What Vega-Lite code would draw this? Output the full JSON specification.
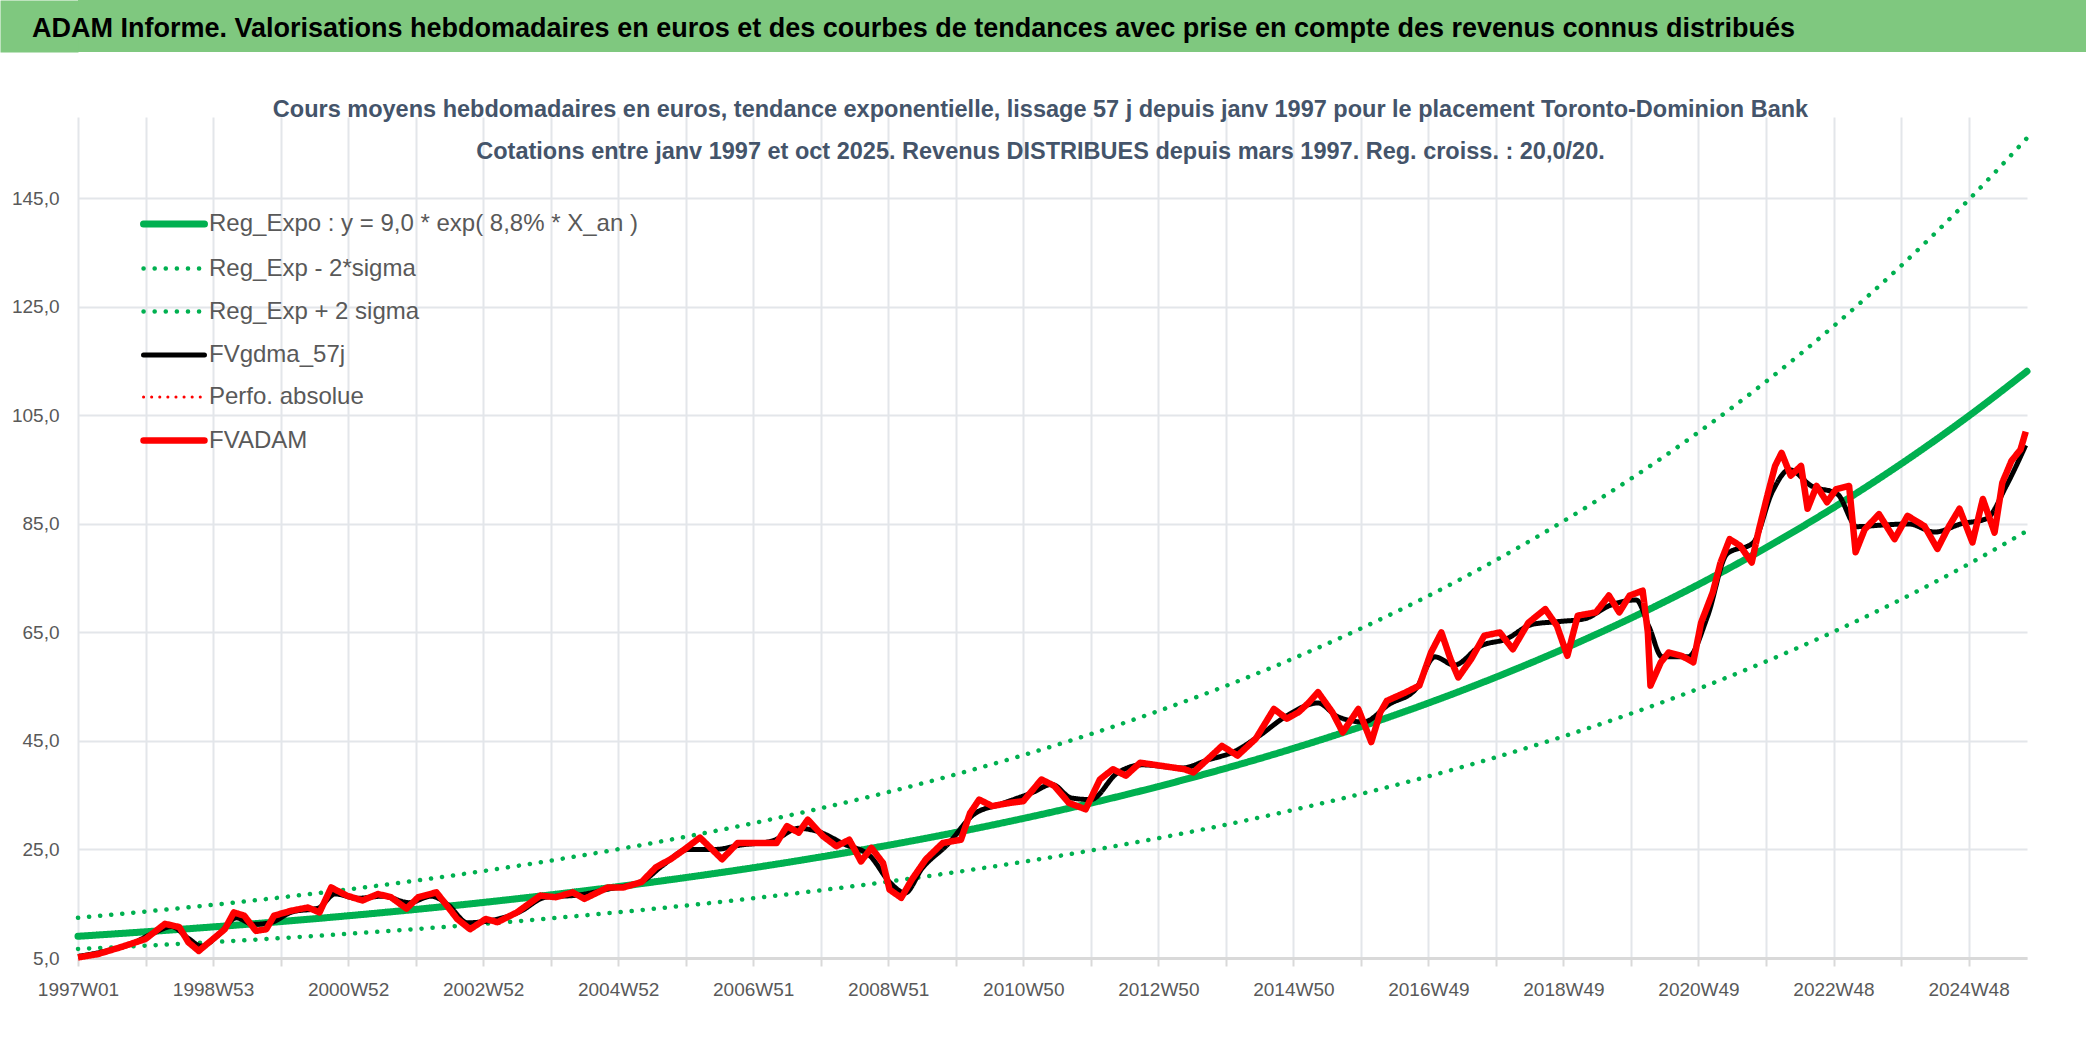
{
  "$schema": "https://vega.github.io/schema/vega-lite/v6.json",
  "padding": 0,
  "background": "white",
  "config": {
    "font": "Liberation Sans",
    "view": {"stroke": null}
  },
  "datasets": {
    "trend": [
      {"s": "Reg_Expo : y = 9,0 * exp( 8,8% *  X_an )", "t": 0, "v": 9.00},
      {"s": "Reg_Expo : y = 9,0 * exp( 8,8% *  X_an )", "t": 52, "v": 9.83},
      {"s": "Reg_Expo : y = 9,0 * exp( 8,8% *  X_an )", "t": 104, "v": 10.73},
      {"s": "Reg_Expo : y = 9,0 * exp( 8,8% *  X_an )", "t": 156, "v": 11.71},
      {"s": "Reg_Expo : y = 9,0 * exp( 8,8% *  X_an )", "t": 208, "v": 12.78},
      {"s": "Reg_Expo : y = 9,0 * exp( 8,8% *  X_an )", "t": 260, "v": 13.95},
      {"s": "Reg_Expo : y = 9,0 * exp( 8,8% *  X_an )", "t": 312, "v": 15.23},
      {"s": "Reg_Expo : y = 9,0 * exp( 8,8% *  X_an )", "t": 364, "v": 16.63},
      {"s": "Reg_Expo : y = 9,0 * exp( 8,8% *  X_an )", "t": 416, "v": 18.15},
      {"s": "Reg_Expo : y = 9,0 * exp( 8,8% *  X_an )", "t": 468, "v": 19.82},
      {"s": "Reg_Expo : y = 9,0 * exp( 8,8% *  X_an )", "t": 520, "v": 21.63},
      {"s": "Reg_Expo : y = 9,0 * exp( 8,8% *  X_an )", "t": 572, "v": 23.62},
      {"s": "Reg_Expo : y = 9,0 * exp( 8,8% *  X_an )", "t": 624, "v": 25.78},
      {"s": "Reg_Expo : y = 9,0 * exp( 8,8% *  X_an )", "t": 676, "v": 28.14},
      {"s": "Reg_Expo : y = 9,0 * exp( 8,8% *  X_an )", "t": 728, "v": 30.72},
      {"s": "Reg_Expo : y = 9,0 * exp( 8,8% *  X_an )", "t": 780, "v": 33.54},
      {"s": "Reg_Expo : y = 9,0 * exp( 8,8% *  X_an )", "t": 832, "v": 36.61},
      {"s": "Reg_Expo : y = 9,0 * exp( 8,8% *  X_an )", "t": 884, "v": 39.97},
      {"s": "Reg_Expo : y = 9,0 * exp( 8,8% *  X_an )", "t": 936, "v": 43.63},
      {"s": "Reg_Expo : y = 9,0 * exp( 8,8% *  X_an )", "t": 988, "v": 47.63},
      {"s": "Reg_Expo : y = 9,0 * exp( 8,8% *  X_an )", "t": 1040, "v": 51.99},
      {"s": "Reg_Expo : y = 9,0 * exp( 8,8% *  X_an )", "t": 1092, "v": 56.76},
      {"s": "Reg_Expo : y = 9,0 * exp( 8,8% *  X_an )", "t": 1144, "v": 61.96},
      {"s": "Reg_Expo : y = 9,0 * exp( 8,8% *  X_an )", "t": 1196, "v": 67.64},
      {"s": "Reg_Expo : y = 9,0 * exp( 8,8% *  X_an )", "t": 1248, "v": 73.84},
      {"s": "Reg_Expo : y = 9,0 * exp( 8,8% *  X_an )", "t": 1300, "v": 80.61},
      {"s": "Reg_Expo : y = 9,0 * exp( 8,8% *  X_an )", "t": 1352, "v": 88.00},
      {"s": "Reg_Expo : y = 9,0 * exp( 8,8% *  X_an )", "t": 1404, "v": 96.06},
      {"s": "Reg_Expo : y = 9,0 * exp( 8,8% *  X_an )", "t": 1456, "v": 104.87},
      {"s": "Reg_Expo : y = 9,0 * exp( 8,8% *  X_an )", "t": 1501, "v": 113.13},
      {"s": "Reg_Exp - 2*sigma", "t": 0, "v": 6.66},
      {"s": "Reg_Exp - 2*sigma", "t": 52, "v": 7.27},
      {"s": "Reg_Exp - 2*sigma", "t": 104, "v": 7.94},
      {"s": "Reg_Exp - 2*sigma", "t": 156, "v": 8.66},
      {"s": "Reg_Exp - 2*sigma", "t": 208, "v": 9.46},
      {"s": "Reg_Exp - 2*sigma", "t": 260, "v": 10.33},
      {"s": "Reg_Exp - 2*sigma", "t": 312, "v": 11.27},
      {"s": "Reg_Exp - 2*sigma", "t": 364, "v": 12.30},
      {"s": "Reg_Exp - 2*sigma", "t": 416, "v": 13.43},
      {"s": "Reg_Exp - 2*sigma", "t": 468, "v": 14.66},
      {"s": "Reg_Exp - 2*sigma", "t": 520, "v": 16.01},
      {"s": "Reg_Exp - 2*sigma", "t": 572, "v": 17.48},
      {"s": "Reg_Exp - 2*sigma", "t": 624, "v": 19.08},
      {"s": "Reg_Exp - 2*sigma", "t": 676, "v": 20.83},
      {"s": "Reg_Exp - 2*sigma", "t": 728, "v": 22.73},
      {"s": "Reg_Exp - 2*sigma", "t": 780, "v": 24.82},
      {"s": "Reg_Exp - 2*sigma", "t": 832, "v": 27.09},
      {"s": "Reg_Exp - 2*sigma", "t": 884, "v": 29.57},
      {"s": "Reg_Exp - 2*sigma", "t": 936, "v": 32.29},
      {"s": "Reg_Exp - 2*sigma", "t": 988, "v": 35.24},
      {"s": "Reg_Exp - 2*sigma", "t": 1040, "v": 38.48},
      {"s": "Reg_Exp - 2*sigma", "t": 1092, "v": 42.00},
      {"s": "Reg_Exp - 2*sigma", "t": 1144, "v": 45.85},
      {"s": "Reg_Exp - 2*sigma", "t": 1196, "v": 50.05},
      {"s": "Reg_Exp - 2*sigma", "t": 1248, "v": 54.64},
      {"s": "Reg_Exp - 2*sigma", "t": 1300, "v": 59.65},
      {"s": "Reg_Exp - 2*sigma", "t": 1352, "v": 65.12},
      {"s": "Reg_Exp - 2*sigma", "t": 1404, "v": 71.09},
      {"s": "Reg_Exp - 2*sigma", "t": 1456, "v": 77.60},
      {"s": "Reg_Exp - 2*sigma", "t": 1501, "v": 83.72},
      {"s": "Reg_Exp + 2 sigma", "t": 0, "v": 12.42},
      {"s": "Reg_Exp + 2 sigma", "t": 52, "v": 13.56},
      {"s": "Reg_Exp + 2 sigma", "t": 104, "v": 14.80},
      {"s": "Reg_Exp + 2 sigma", "t": 156, "v": 16.16},
      {"s": "Reg_Exp + 2 sigma", "t": 208, "v": 17.64},
      {"s": "Reg_Exp + 2 sigma", "t": 260, "v": 19.26},
      {"s": "Reg_Exp + 2 sigma", "t": 312, "v": 21.02},
      {"s": "Reg_Exp + 2 sigma", "t": 364, "v": 22.95},
      {"s": "Reg_Exp + 2 sigma", "t": 416, "v": 25.05},
      {"s": "Reg_Exp + 2 sigma", "t": 468, "v": 27.35},
      {"s": "Reg_Exp + 2 sigma", "t": 520, "v": 29.85},
      {"s": "Reg_Exp + 2 sigma", "t": 572, "v": 32.59},
      {"s": "Reg_Exp + 2 sigma", "t": 624, "v": 35.58},
      {"s": "Reg_Exp + 2 sigma", "t": 676, "v": 38.84},
      {"s": "Reg_Exp + 2 sigma", "t": 728, "v": 42.39},
      {"s": "Reg_Exp + 2 sigma", "t": 780, "v": 46.28},
      {"s": "Reg_Exp + 2 sigma", "t": 832, "v": 50.52},
      {"s": "Reg_Exp + 2 sigma", "t": 884, "v": 55.15},
      {"s": "Reg_Exp + 2 sigma", "t": 936, "v": 60.21},
      {"s": "Reg_Exp + 2 sigma", "t": 988, "v": 65.73},
      {"s": "Reg_Exp + 2 sigma", "t": 1040, "v": 71.75},
      {"s": "Reg_Exp + 2 sigma", "t": 1092, "v": 78.33},
      {"s": "Reg_Exp + 2 sigma", "t": 1144, "v": 85.51},
      {"s": "Reg_Exp + 2 sigma", "t": 1196, "v": 93.34},
      {"s": "Reg_Exp + 2 sigma", "t": 1248, "v": 101.90},
      {"s": "Reg_Exp + 2 sigma", "t": 1300, "v": 111.24},
      {"s": "Reg_Exp + 2 sigma", "t": 1352, "v": 121.44},
      {"s": "Reg_Exp + 2 sigma", "t": 1404, "v": 132.57},
      {"s": "Reg_Exp + 2 sigma", "t": 1456, "v": 144.72},
      {"s": "Reg_Exp + 2 sigma", "t": 1501, "v": 156.12}
    ],
    "smooth": [
      {"s": "FVgdma_57j", "t": 0, "v": 5.3}, {"s": "FVgdma_57j", "t": 20, "v": 6.2}, {"s": "FVgdma_57j", "t": 40, "v": 7.5},
      {"s": "FVgdma_57j", "t": 60, "v": 9.8}, {"s": "FVgdma_57j", "t": 72, "v": 10.8}, {"s": "FVgdma_57j", "t": 85, "v": 8.6},
      {"s": "FVgdma_57j", "t": 95, "v": 7.2}, {"s": "FVgdma_57j", "t": 108, "v": 9.2}, {"s": "FVgdma_57j", "t": 122, "v": 12.4},
      {"s": "FVgdma_57j", "t": 135, "v": 11.2}, {"s": "FVgdma_57j", "t": 148, "v": 11.5}, {"s": "FVgdma_57j", "t": 165, "v": 13.5},
      {"s": "FVgdma_57j", "t": 185, "v": 14.2}, {"s": "FVgdma_57j", "t": 198, "v": 16.8}, {"s": "FVgdma_57j", "t": 215, "v": 16.0},
      {"s": "FVgdma_57j", "t": 235, "v": 16.4}, {"s": "FVgdma_57j", "t": 255, "v": 15.2}, {"s": "FVgdma_57j", "t": 272, "v": 16.4},
      {"s": "FVgdma_57j", "t": 285, "v": 14.8}, {"s": "FVgdma_57j", "t": 300, "v": 11.5}, {"s": "FVgdma_57j", "t": 320, "v": 12.0},
      {"s": "FVgdma_57j", "t": 340, "v": 13.5}, {"s": "FVgdma_57j", "t": 360, "v": 16.2}, {"s": "FVgdma_57j", "t": 385, "v": 16.6},
      {"s": "FVgdma_57j", "t": 410, "v": 17.8}, {"s": "FVgdma_57j", "t": 435, "v": 19.2}, {"s": "FVgdma_57j", "t": 450, "v": 22.0},
      {"s": "FVgdma_57j", "t": 470, "v": 25.0}, {"s": "FVgdma_57j", "t": 490, "v": 25.0}, {"s": "FVgdma_57j", "t": 510, "v": 25.8},
      {"s": "FVgdma_57j", "t": 535, "v": 26.6}, {"s": "FVgdma_57j", "t": 555, "v": 28.9}, {"s": "FVgdma_57j", "t": 570, "v": 28.3},
      {"s": "FVgdma_57j", "t": 590, "v": 26.0}, {"s": "FVgdma_57j", "t": 610, "v": 23.8}, {"s": "FVgdma_57j", "t": 625, "v": 19.0},
      {"s": "FVgdma_57j", "t": 637, "v": 17.0}, {"s": "FVgdma_57j", "t": 650, "v": 21.5}, {"s": "FVgdma_57j", "t": 670, "v": 26.0},
      {"s": "FVgdma_57j", "t": 690, "v": 31.5}, {"s": "FVgdma_57j", "t": 710, "v": 33.3}, {"s": "FVgdma_57j", "t": 735, "v": 35.5},
      {"s": "FVgdma_57j", "t": 750, "v": 37.0}, {"s": "FVgdma_57j", "t": 765, "v": 34.5}, {"s": "FVgdma_57j", "t": 780, "v": 34.2},
      {"s": "FVgdma_57j", "t": 800, "v": 39.0}, {"s": "FVgdma_57j", "t": 820, "v": 40.6}, {"s": "FVgdma_57j", "t": 850, "v": 40.0},
      {"s": "FVgdma_57j", "t": 870, "v": 41.5}, {"s": "FVgdma_57j", "t": 890, "v": 43.0}, {"s": "FVgdma_57j", "t": 910, "v": 46.0},
      {"s": "FVgdma_57j", "t": 930, "v": 49.5}, {"s": "FVgdma_57j", "t": 955, "v": 52.0}, {"s": "FVgdma_57j", "t": 970, "v": 49.5},
      {"s": "FVgdma_57j", "t": 990, "v": 48.5}, {"s": "FVgdma_57j", "t": 1010, "v": 51.8}, {"s": "FVgdma_57j", "t": 1030, "v": 54.5},
      {"s": "FVgdma_57j", "t": 1045, "v": 60.5}, {"s": "FVgdma_57j", "t": 1060, "v": 59.0}, {"s": "FVgdma_57j", "t": 1080, "v": 62.5},
      {"s": "FVgdma_57j", "t": 1100, "v": 63.8}, {"s": "FVgdma_57j", "t": 1120, "v": 66.5}, {"s": "FVgdma_57j", "t": 1140, "v": 67.0},
      {"s": "FVgdma_57j", "t": 1160, "v": 67.5}, {"s": "FVgdma_57j", "t": 1180, "v": 70.0}, {"s": "FVgdma_57j", "t": 1200, "v": 71.0},
      {"s": "FVgdma_57j", "t": 1210, "v": 66.0}, {"s": "FVgdma_57j", "t": 1220, "v": 60.5}, {"s": "FVgdma_57j", "t": 1240, "v": 60.5},
      {"s": "FVgdma_57j", "t": 1255, "v": 68.0}, {"s": "FVgdma_57j", "t": 1270, "v": 79.5}, {"s": "FVgdma_57j", "t": 1290, "v": 81.5},
      {"s": "FVgdma_57j", "t": 1305, "v": 91.0}, {"s": "FVgdma_57j", "t": 1318, "v": 95.0}, {"s": "FVgdma_57j", "t": 1335, "v": 92.0},
      {"s": "FVgdma_57j", "t": 1355, "v": 90.5}, {"s": "FVgdma_57j", "t": 1370, "v": 84.5}, {"s": "FVgdma_57j", "t": 1390, "v": 84.8},
      {"s": "FVgdma_57j", "t": 1410, "v": 85.0}, {"s": "FVgdma_57j", "t": 1430, "v": 83.5}, {"s": "FVgdma_57j", "t": 1450, "v": 85.0},
      {"s": "FVgdma_57j", "t": 1470, "v": 86.0}, {"s": "FVgdma_57j", "t": 1485, "v": 92.0}, {"s": "FVgdma_57j", "t": 1500, "v": 99.5}
    ],
    "raw": [
      {"s": "FVADAM", "t": 0, "v": 5.1}, {"s": "FVADAM", "t": 15, "v": 5.7}, {"s": "FVADAM", "t": 33, "v": 7.0},
      {"s": "FVADAM", "t": 52, "v": 8.5}, {"s": "FVADAM", "t": 67, "v": 11.3}, {"s": "FVADAM", "t": 78, "v": 10.7},
      {"s": "FVADAM", "t": 85, "v": 7.9}, {"s": "FVADAM", "t": 93, "v": 6.3}, {"s": "FVADAM", "t": 104, "v": 8.5},
      {"s": "FVADAM", "t": 113, "v": 10.3}, {"s": "FVADAM", "t": 120, "v": 13.4}, {"s": "FVADAM", "t": 128, "v": 12.8},
      {"s": "FVADAM", "t": 137, "v": 10.0}, {"s": "FVADAM", "t": 145, "v": 10.3}, {"s": "FVADAM", "t": 151, "v": 12.8},
      {"s": "FVADAM", "t": 164, "v": 13.7}, {"s": "FVADAM", "t": 177, "v": 14.3}, {"s": "FVADAM", "t": 186, "v": 13.4},
      {"s": "FVADAM", "t": 195, "v": 18.0}, {"s": "FVADAM", "t": 207, "v": 16.5}, {"s": "FVADAM", "t": 219, "v": 15.6},
      {"s": "FVADAM", "t": 231, "v": 16.8}, {"s": "FVADAM", "t": 241, "v": 16.2}, {"s": "FVADAM", "t": 253, "v": 14.1},
      {"s": "FVADAM", "t": 262, "v": 16.2}, {"s": "FVADAM", "t": 276, "v": 17.1}, {"s": "FVADAM", "t": 283, "v": 15.0},
      {"s": "FVADAM", "t": 292, "v": 12.2}, {"s": "FVADAM", "t": 302, "v": 10.3}, {"s": "FVADAM", "t": 314, "v": 12.2},
      {"s": "FVADAM", "t": 323, "v": 11.6}, {"s": "FVADAM", "t": 338, "v": 13.4}, {"s": "FVADAM", "t": 356, "v": 16.5},
      {"s": "FVADAM", "t": 368, "v": 16.2}, {"s": "FVADAM", "t": 381, "v": 17.1}, {"s": "FVADAM", "t": 390, "v": 15.9},
      {"s": "FVADAM", "t": 408, "v": 18.0}, {"s": "FVADAM", "t": 420, "v": 18.0}, {"s": "FVADAM", "t": 434, "v": 19.0},
      {"s": "FVADAM", "t": 445, "v": 21.7}, {"s": "FVADAM", "t": 457, "v": 23.3}, {"s": "FVADAM", "t": 467, "v": 25.0},
      {"s": "FVADAM", "t": 479, "v": 27.2}, {"s": "FVADAM", "t": 496, "v": 23.2}, {"s": "FVADAM", "t": 508, "v": 26.2},
      {"s": "FVADAM", "t": 525, "v": 26.2}, {"s": "FVADAM", "t": 538, "v": 26.2}, {"s": "FVADAM", "t": 546, "v": 29.3},
      {"s": "FVADAM", "t": 555, "v": 28.1}, {"s": "FVADAM", "t": 562, "v": 30.5}, {"s": "FVADAM", "t": 574, "v": 27.4},
      {"s": "FVADAM", "t": 584, "v": 25.6}, {"s": "FVADAM", "t": 594, "v": 26.8}, {"s": "FVADAM", "t": 603, "v": 22.8},
      {"s": "FVADAM", "t": 611, "v": 25.3}, {"s": "FVADAM", "t": 620, "v": 22.5}, {"s": "FVADAM", "t": 625, "v": 17.6},
      {"s": "FVADAM", "t": 634, "v": 16.1}, {"s": "FVADAM", "t": 642, "v": 19.4}, {"s": "FVADAM", "t": 653, "v": 23.2},
      {"s": "FVADAM", "t": 666, "v": 26.2}, {"s": "FVADAM", "t": 680, "v": 26.8}, {"s": "FVADAM", "t": 687, "v": 31.7},
      {"s": "FVADAM", "t": 694, "v": 34.2}, {"s": "FVADAM", "t": 704, "v": 33.0}, {"s": "FVADAM", "t": 718, "v": 33.6},
      {"s": "FVADAM", "t": 728, "v": 33.9}, {"s": "FVADAM", "t": 742, "v": 37.9}, {"s": "FVADAM", "t": 752, "v": 36.7},
      {"s": "FVADAM", "t": 763, "v": 33.6}, {"s": "FVADAM", "t": 776, "v": 32.4}, {"s": "FVADAM", "t": 787, "v": 37.9},
      {"s": "FVADAM", "t": 797, "v": 39.8}, {"s": "FVADAM", "t": 807, "v": 38.6}, {"s": "FVADAM", "t": 818, "v": 41.0},
      {"s": "FVADAM", "t": 835, "v": 40.4}, {"s": "FVADAM", "t": 852, "v": 39.8}, {"s": "FVADAM", "t": 859, "v": 39.2},
      {"s": "FVADAM", "t": 873, "v": 42.3}, {"s": "FVADAM", "t": 881, "v": 44.1}, {"s": "FVADAM", "t": 893, "v": 42.3},
      {"s": "FVADAM", "t": 907, "v": 45.4}, {"s": "FVADAM", "t": 921, "v": 50.9}, {"s": "FVADAM", "t": 931, "v": 49.1},
      {"s": "FVADAM", "t": 940, "v": 50.3}, {"s": "FVADAM", "t": 948, "v": 52.1}, {"s": "FVADAM", "t": 955, "v": 54.0},
      {"s": "FVADAM", "t": 966, "v": 50.3}, {"s": "FVADAM", "t": 974, "v": 46.6}, {"s": "FVADAM", "t": 986, "v": 50.9},
      {"s": "FVADAM", "t": 996, "v": 44.8}, {"s": "FVADAM", "t": 1003, "v": 50.3}, {"s": "FVADAM", "t": 1008, "v": 52.4},
      {"s": "FVADAM", "t": 1022, "v": 53.9}, {"s": "FVADAM", "t": 1033, "v": 55.2}, {"s": "FVADAM", "t": 1042, "v": 61.3},
      {"s": "FVADAM", "t": 1050, "v": 65.0}, {"s": "FVADAM", "t": 1057, "v": 60.1}, {"s": "FVADAM", "t": 1063, "v": 56.7},
      {"s": "FVADAM", "t": 1073, "v": 60.1}, {"s": "FVADAM", "t": 1083, "v": 64.4}, {"s": "FVADAM", "t": 1095, "v": 65.0},
      {"s": "FVADAM", "t": 1105, "v": 61.9}, {"s": "FVADAM", "t": 1117, "v": 66.8}, {"s": "FVADAM", "t": 1130, "v": 69.3},
      {"s": "FVADAM", "t": 1139, "v": 66.2}, {"s": "FVADAM", "t": 1147, "v": 60.7}, {"s": "FVADAM", "t": 1155, "v": 68.1},
      {"s": "FVADAM", "t": 1169, "v": 68.7}, {"s": "FVADAM", "t": 1179, "v": 71.8}, {"s": "FVADAM", "t": 1187, "v": 68.7},
      {"s": "FVADAM", "t": 1195, "v": 71.8}, {"s": "FVADAM", "t": 1205, "v": 72.7}, {"s": "FVADAM", "t": 1209, "v": 65.0},
      {"s": "FVADAM", "t": 1211, "v": 55.2}, {"s": "FVADAM", "t": 1219, "v": 59.5}, {"s": "FVADAM", "t": 1225, "v": 61.3},
      {"s": "FVADAM", "t": 1235, "v": 60.7}, {"s": "FVADAM", "t": 1244, "v": 59.5}, {"s": "FVADAM", "t": 1250, "v": 66.8},
      {"s": "FVADAM", "t": 1259, "v": 72.4}, {"s": "FVADAM", "t": 1265, "v": 77.9}, {"s": "FVADAM", "t": 1272, "v": 82.2},
      {"s": "FVADAM", "t": 1280, "v": 81.0}, {"s": "FVADAM", "t": 1289, "v": 77.9}, {"s": "FVADAM", "t": 1294, "v": 83.4},
      {"s": "FVADAM", "t": 1301, "v": 90.2}, {"s": "FVADAM", "t": 1307, "v": 95.7}, {"s": "FVADAM", "t": 1312, "v": 98.1},
      {"s": "FVADAM", "t": 1319, "v": 93.9}, {"s": "FVADAM", "t": 1327, "v": 95.7}, {"s": "FVADAM", "t": 1332, "v": 87.8},
      {"s": "FVADAM", "t": 1339, "v": 92.0}, {"s": "FVADAM", "t": 1347, "v": 89.0}, {"s": "FVADAM", "t": 1354, "v": 91.4},
      {"s": "FVADAM", "t": 1364, "v": 92.0}, {"s": "FVADAM", "t": 1369, "v": 79.8}, {"s": "FVADAM", "t": 1376, "v": 84.0},
      {"s": "FVADAM", "t": 1387, "v": 86.8}, {"s": "FVADAM", "t": 1399, "v": 82.2}, {"s": "FVADAM", "t": 1409, "v": 86.5},
      {"s": "FVADAM", "t": 1422, "v": 84.6}, {"s": "FVADAM", "t": 1432, "v": 80.4}, {"s": "FVADAM", "t": 1441, "v": 84.6},
      {"s": "FVADAM", "t": 1449, "v": 87.8}, {"s": "FVADAM", "t": 1459, "v": 81.6}, {"s": "FVADAM", "t": 1467, "v": 89.6},
      {"s": "FVADAM", "t": 1476, "v": 83.4}, {"s": "FVADAM", "t": 1482, "v": 92.6}, {"s": "FVADAM", "t": 1489, "v": 96.6},
      {"s": "FVADAM", "t": 1496, "v": 98.7}, {"s": "FVADAM", "t": 1500, "v": 102.0}
    ]
  },
  "concat": [
    {
      "width": 2008,
      "height": 52,
      "view": {"fill": "#7FC87F", "stroke": null},
      "data": {"values": [{"label": "ADAM Informe. Valorisations hebdomadaires en euros et des courbes de tendances avec prise en compte des revenus connus distribués"}]},
      "mark": {"type": "text", "align": "left", "baseline": "middle", "font": "Liberation Sans", "fontSize": 27, "fontWeight": "bold", "color": "#000000", "dx": -46, "dy": 3},
      "encoding": {
        "text": {"field": "label", "type": "nominal"},
        "x": {"value": 0},
        "y": {
          "datum": 0, "type": "quantitative",
          "scale": {"domain": [-1, 1], "nice": false, "zero": false},
          "axis": {"title": null, "labels": false, "ticks": false, "grid": false, "domainColor": "#7FC87F", "domainWidth": 78, "domainCap": "butt", "offset": 39, "minExtent": 0, "maxExtent": 0}
        }
      }
    },
    {
      "width": 1949,
      "height": 841,
      "title": {
        "text": ["Cours moyens hebdomadaires en euros, tendance exponentielle, lissage 57 j depuis janv 1997 pour le placement Toronto-Dominion Bank", "Cotations entre janv 1997 et oct 2025. Revenus DISTRIBUES depuis mars 1997. Reg. croiss. : 20,0/20."],
        "anchor": "middle",
        "frame": "group",
        "dx": -12,
        "font": "Liberation Sans",
        "fontSize": 23.5,
        "fontWeight": "bold",
        "color": "#44546A",
        "lineHeight": 42,
        "offset": -46
      },
      "encoding": {
        "x": {
          "field": "t", "type": "quantitative",
          "scale": {"domain": [0, 1501], "nice": false, "zero": false},
          "axis": {
            "title": null,
            "values": [0, 52, 104, 156, 208, 260, 312, 364, 416, 468, 520, 572, 624, 676, 728, 780, 832, 884, 936, 988, 1040, 1092, 1144, 1196, 1248, 1300, 1352, 1404, 1456],
            "labelExpr": "datum.value % 104 == 0 ? ['1997W01','1998W53','2000W52','2002W52','2004W52','2006W51','2008W51','2010W50','2012W50','2014W50','2016W49','2018W49','2020W49','2022W48','2024W48'][datum.value / 104] : ''",
            "labelFlush": false,
            "labelOverlap": false,
            "labelFont": "Liberation Sans",
            "labelFontSize": 19,
            "labelColor": "#595959",
            "labelPadding": 14,
            "domainColor": "#D9D9D9",
            "domainWidth": 3,
            "grid": true,
            "gridColor": "#E3E6EA",
            "gridWidth": 2,
            "tickColor": "#D9D9D9",
            "tickSize": 8,
            "tickWidth": 2
          }
        },
        "y": {
          "field": "v", "type": "quantitative",
          "scale": {"domain": [5, 160], "nice": false, "zero": false},
          "axis": {
            "title": null,
            "values": [5, 25, 45, 65, 85, 105, 125, 145],
            "labelExpr": "replace(format(datum.value, '.1f'), '.', ',')",
            "labelFont": "Liberation Sans",
            "labelFontSize": 19,
            "labelColor": "#595959",
            "labelPadding": 19,
            "domain": false,
            "ticks": false,
            "tickSize": 0,
            "grid": true,
            "gridColor": "#E3E6EA",
            "gridWidth": 2,
            "minExtent": 78,
            "maxExtent": 78
          }
        },
        "color": {
          "field": "s", "type": "nominal",
          "scale": {
            "domain": ["Reg_Expo : y = 9,0 * exp( 8,8% *  X_an )", "Reg_Exp - 2*sigma", "Reg_Exp + 2 sigma", "FVgdma_57j", "Perfo. absolue", "FVADAM"],
            "range": ["#00B050", "#00B050", "#00B050", "#000000", "#FF0000", "#FF0000"]
          },
          "legend": {
            "title": null, "orient": "none", "legendX": 82, "legendY": 210, "padding": 0,
            "symbolType": "M-3,0H3", "symbolSize": 413,
            "labelFont": "Liberation Sans", "labelFontSize": 24, "labelColor": "#595959",
            "labelOffset": 21, "rowPadding": 18, "labelLimit": 900,
            "encode": {"symbols": {"update": {"strokeCap": {"value": "round"}}}}
          }
        },
        "strokeDash": {
          "field": "s", "type": "nominal",
          "scale": {
            "domain": ["Reg_Expo : y = 9,0 * exp( 8,8% *  X_an )", "Reg_Exp - 2*sigma", "Reg_Exp + 2 sigma", "FVgdma_57j", "Perfo. absolue", "FVADAM"],
            "range": [[1, 0], [0.1, 11], [0.1, 11], [1, 0], [0.1, 8], [1, 0]]
          },
          "legend": {
            "title": null, "orient": "none", "legendX": 82, "legendY": 210, "padding": 0,
            "symbolType": "M-3,0H3", "symbolSize": 413,
            "labelFont": "Liberation Sans", "labelFontSize": 24, "labelColor": "#595959",
            "labelOffset": 21, "rowPadding": 18, "labelLimit": 900,
            "encode": {"symbols": {"update": {"strokeCap": {"value": "round"}}}}
          }
        },
        "strokeWidth": {
          "field": "s", "type": "nominal",
          "scale": {
            "type": "ordinal",
            "domain": ["Reg_Expo : y = 9,0 * exp( 8,8% *  X_an )", "Reg_Exp - 2*sigma", "Reg_Exp + 2 sigma", "FVgdma_57j", "Perfo. absolue", "FVADAM"],
            "range": [7, 4.5, 4.5, 5, 3, 6.5]
          },
          "legend": {
            "title": null, "orient": "none", "legendX": 82, "legendY": 210, "padding": 0,
            "symbolType": "M-3,0H3", "symbolSize": 413,
            "labelFont": "Liberation Sans", "labelFontSize": 24, "labelColor": "#595959",
            "labelOffset": 21, "rowPadding": 18, "labelLimit": 900,
            "encode": {"symbols": {"update": {"strokeCap": {"value": "round"}}}}
          }
        }
      },
      "layer": [
        {
          "data": {"name": "trend"},
          "mark": {"type": "line", "interpolate": "monotone", "strokeCap": "round"}
        },
        {
          "data": {"name": "smooth"},
          "mark": {"type": "line", "interpolate": "monotone", "strokeJoin": "round"}
        },
        {
          "data": {"name": "raw"},
          "mark": {"type": "line", "strokeJoin": "round"}
        }
      ]
    }
  ],
  "columns": 1,
  "align": "none",
  "spacing": 45
}
